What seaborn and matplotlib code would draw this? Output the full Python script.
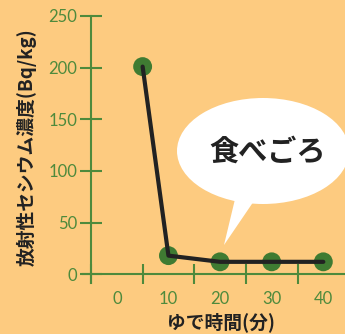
import matplotlib
matplotlib.use("Agg")
import matplotlib.pyplot as plt
import seaborn as sns
import pandas as pd
from matplotlib.patches import Ellipse, Polygon

# ---- data ----
boil_minutes = [5, 10, 20, 30, 40]
cesium_bq = [201, 18, 12, 12, 12]
x_tick_labels = ["0", "10", "20", "30", "40"]
x_label_pos = [0, 10, 20, 30, 40]
x_tick_marks = [-5, 5, 15, 25, 35]
y_ticks = [0, 50, 100, 150, 200, 250]
ylabel = "放射性セシウム濃度(Bq/kg)"
xlabel = "ゆで時間(分)"
callout = "食べごろ"

BG = "#FDCB80"
GREEN = "#4E8A3C"
DOT = "#3F7B32"
LINE = "#222222"

sns.set_theme(style="white")
plt.rcParams["font.family"] = ["Noto Sans CJK JP", "DejaVu Sans"]

W, H = 345, 334
fig = plt.figure(figsize=(W / 100, H / 100), dpi=100)
fig.patch.set_facecolor(BG)
ax = fig.add_axes([83 / W, (H - 283) / H, (W - 83) / W, (283 - 10) / H])
ax.set_facecolor("none")

df = pd.DataFrame({"t": boil_minutes, "c": cesium_bq})
sns.scatterplot(data=df, x="t", y="c", ax=ax, s=185, color=DOT, edgecolor="none", zorder=3)
sns.lineplot(data=df, x="t", y="c", ax=ax, color=LINE, lw=3, zorder=4)

ax.set_xlim(-6.55, 44.2)
ax.set_ylim(-8.5, 255.8)

for s in ["top", "right"]:
    ax.spines[s].set_visible(False)
ax.spines["left"].set_position(("data", -5))
ax.spines["left"].set_bounds(-8.5, 250)
ax.spines["bottom"].set_position(("data", 0))
for s in ["left", "bottom"]:
    ax.spines[s].set_color(GREEN)
    ax.spines[s].set_linewidth(1.5)

ax.set_yticks(y_ticks)
ax.set_yticklabels([str(v) for v in y_ticks])
ax.set_xticks(x_tick_marks)
ax.set_xticklabels([])
ax.set_xticks(x_label_pos, minor=True)
ax.set_xticklabels(x_tick_labels, minor=True)

ax.tick_params(axis="y", which="major", direction="inout", length=15.5, width=1.5,
               color=GREEN, labelcolor=GREEN, labelsize=12, pad=2, left=True)
ax.tick_params(axis="x", which="major", direction="inout", length=14.5, width=1.5,
               color=GREEN, bottom=True)
ax.tick_params(axis="x", which="minor", length=0, labelcolor=GREEN, labelsize=12, pad=12, bottom=True)
for lab in ax.get_yticklabels() + ax.get_xticklabels(minor=True):
    lab.set_fontfamily(["Lato", "DejaVu Sans"])

ax.set_ylabel(ylabel, fontsize=13.5, fontweight="bold", color=LINE, va="center")
ax.yaxis.set_label_coords(-0.214, 0.498)
ax.set_xlabel(xlabel, fontsize=13.5, fontweight="bold", color=LINE, va="center")
ax.xaxis.set_label_coords(0.527, -0.143)

# callout bubble in pixel coords
ov = fig.add_axes([0, 0, 1, 1])
ov.set_xlim(0, W)
ov.set_ylim(H, 0)
ov.axis("off")
ov.patch.set_alpha(0)
ov.add_patch(Ellipse((263, 151), 172, 106, facecolor="white", edgecolor="none"))
ov.add_patch(Polygon([(236, 195), (258, 195), (224, 245)], closed=True,
                     facecolor="white", edgecolor="none"))
ov.text(268, 152, callout, fontsize=21, fontweight="bold", color=LINE,
        ha="center", va="center")

fig.savefig("out.png", dpi=100, facecolor=BG)
